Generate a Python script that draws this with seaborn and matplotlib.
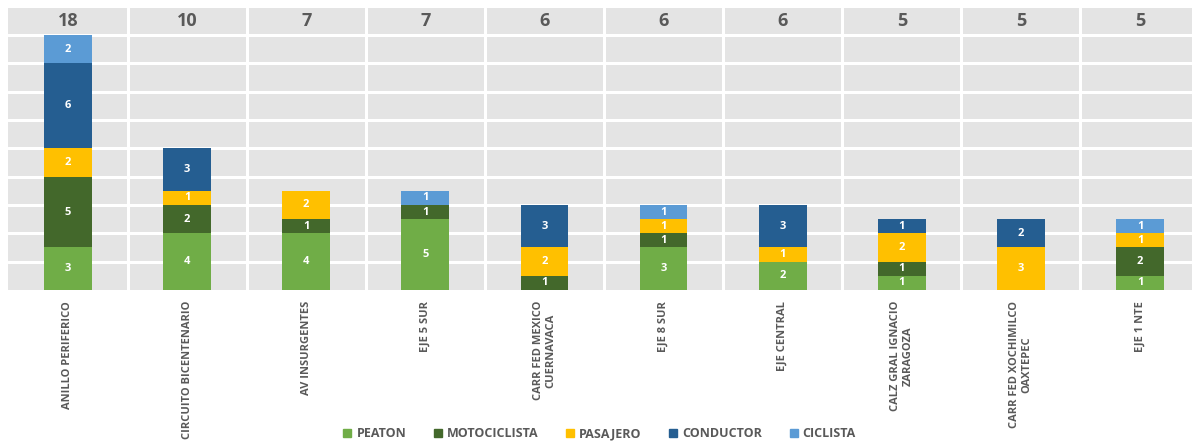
import matplotlib.pyplot as plt
import matplotlib.patches as mpatches
import numpy as np
import seaborn as sns

sns.set_style("white")
plt.rcParams["font.family"] = ["Open Sans", "DejaVu Sans"]

vias = [
    "ANILLO PERIFERICO",
    "CIRCUITO BICENTENARIO",
    "AV INSURGENTES",
    "EJE 5 SUR",
    "CARR FED MEXICO\nCUERNAVACA",
    "EJE 8 SUR",
    "EJE CENTRAL",
    "CALZ GRAL IGNACIO\nZARAGOZA",
    "CARR FED XOCHIMILCO\nOAXTEPEC",
    "EJE 1 NTE",
]
peaton = [3, 4, 4, 5, 0, 3, 2, 1, 0, 1]
motociclista = [5, 2, 1, 1, 1, 1, 0, 1, 0, 2]
pasajero = [2, 1, 2, 0, 2, 1, 1, 2, 3, 1]
conductor = [6, 3, 0, 0, 3, 0, 3, 1, 2, 0]
ciclista = [2, 0, 0, 1, 0, 1, 0, 0, 0, 1]

series = [
    ("PEATON", peaton, "#70AD47"),
    ("MOTOCICLISTA", motociclista, "#43682B"),
    ("PASAJERO", pasajero, "#FFC000"),
    ("CONDUCTOR", conductor, "#255E91"),
    ("CICLISTA", ciclista, "#5B9BD5"),
]

gray = "#595959"

fig = plt.figure(figsize=(11.92, 4.46), dpi=100)
ax = fig.add_axes([8.4 / 1192, 1 - 290 / 446, 1191.2 / 1192, 282 / 446])
ax.set_facecolor("#E4E4E4")

x = np.arange(len(vias))
bottom = np.zeros(len(vias))
for name, vals, color in series:
    vals = np.array(vals, dtype=float)
    sns.barplot(x=x, y=vals, bottom=bottom, color=color, width=0.4,
                saturation=1, native_scale=True, ax=ax, linewidth=0,
                zorder=3)
    cont = ax.containers[-1]
    labels = [str(int(v)) if v > 0 else "" for v in vals]
    ax.bar_label(cont, labels=labels, label_type="center", color="white",
                 fontsize=8, fontweight="bold")
    bottom = bottom + vals

totals = bottom
for i, t in enumerate(totals):
    ax.text(i, 19.0, str(int(t)), ha="center", va="center", fontsize=13,
            fontweight="bold", color=gray)

ax.set_xlim(-0.5, len(vias) - 0.5)
ax.set_ylim(0, 19.9)
ax.set_yticks(np.arange(2, 19, 2))
ax.set_yticklabels([])
ax.tick_params(axis="y", length=0)
ax.set_xticks(x)
ax.set_xticklabels(vias, rotation=90, ha="center", va="top",
                   multialignment="center", fontsize=8, fontweight="bold",
                   color=gray)
ax.set_xticks(np.arange(0.5, len(vias) - 0.5, 1), minor=True)
ax.tick_params(axis="x", which="both", length=0, pad=8)
ax.grid(axis="y", which="major", color="white", linewidth=2.2)
ax.grid(axis="x", which="minor", color="white", linewidth=2.2)
ax.grid(axis="x", which="major", visible=False)
ax.set_axisbelow(True)
ax.set_xlabel("")
ax.set_ylabel("")
for s in ax.spines.values():
    s.set_visible(False)

handles = [mpatches.Patch(color=c, label=n) for n, _, c in series]
leg = fig.legend(handles=handles, loc="lower center", ncol=5,
                 bbox_to_anchor=(0.503, -0.012), frameon=False,
                 handlelength=0.65, handleheight=0.65, handletextpad=0.4,
                 columnspacing=2.2, prop={"size": 9, "weight": "bold"})
for t in leg.get_texts():
    t.set_color(gray)

plt.savefig("out.png", dpi=100)
plt.close()
